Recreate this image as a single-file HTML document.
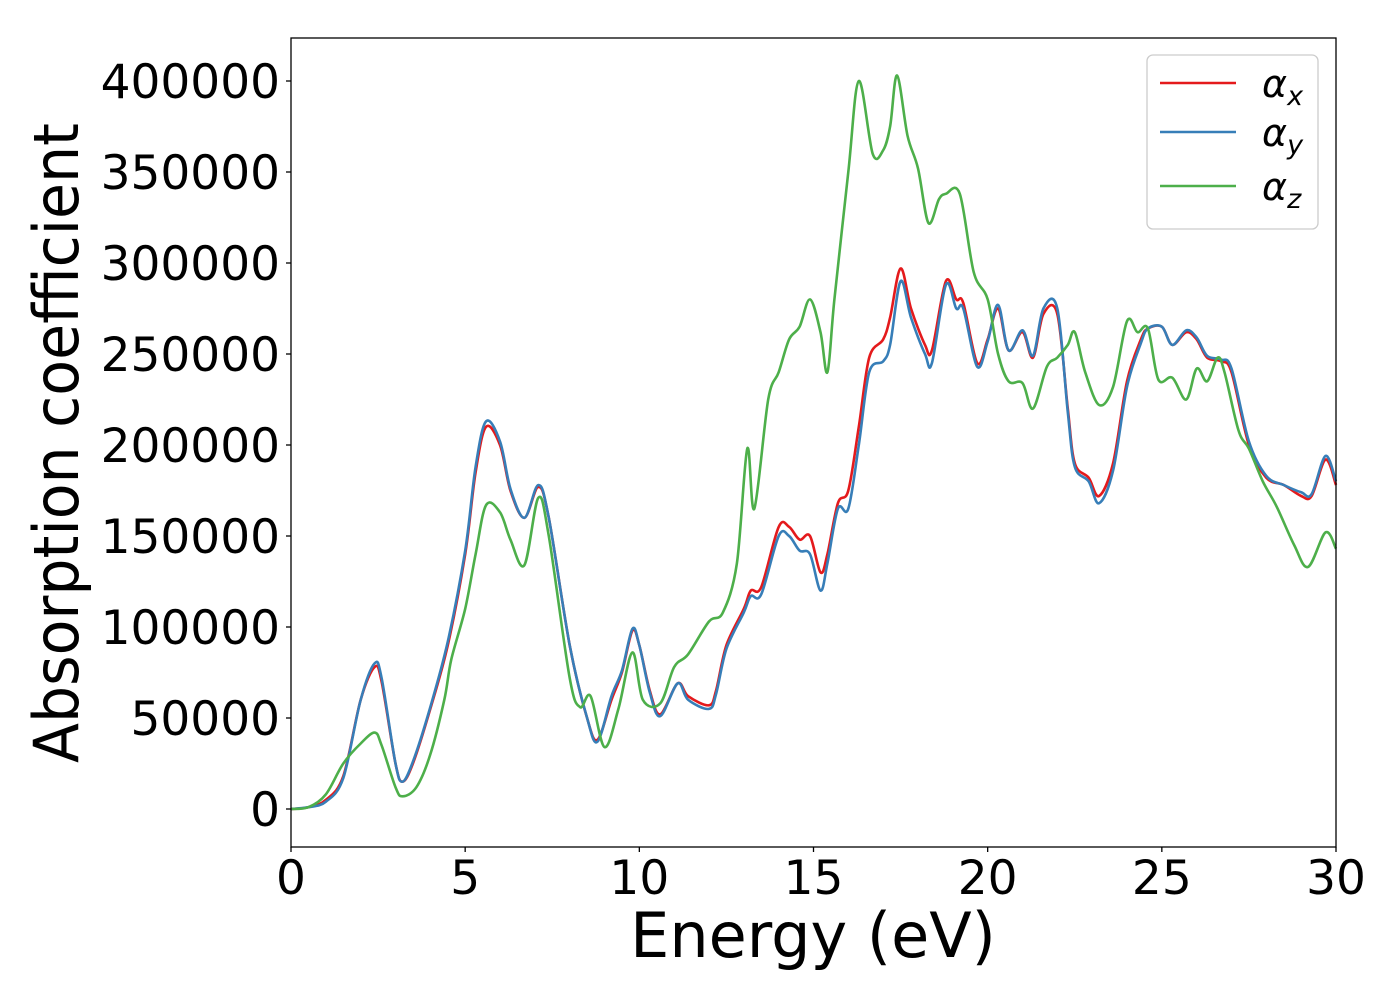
<!DOCTYPE html>
<html><head><meta charset="utf-8"><style>
html,body{margin:0;padding:0;background:#fff;}
svg{display:block;font-family:"DejaVu Sans","Liberation Sans",sans-serif;}
</style></head><body>
<svg id="chart" width="1400" height="1000" viewBox="0 0 1400 1000" xmlns="http://www.w3.org/2000/svg">
<rect x="0" y="0" width="1400" height="1000" fill="#fff"/>
<g id="ticks"></g>
<g id="lines"></g>
<rect x="291" y="38" width="1045" height="809" fill="none" stroke="#000" stroke-width="1.3"/>
<text x="813" y="957" font-size="62" text-anchor="middle">Energy (eV)</text>
<text transform="translate(78,443) rotate(-90)" font-size="62" text-anchor="middle" textLength="640" lengthAdjust="spacingAndGlyphs">Absorption coefficient</text>
<g>
<rect x="1147" y="55" width="171" height="174" rx="6" fill="#fff" fill-opacity="0.8" stroke="#ccc" stroke-width="1.3"/>
<line x1="1160" y1="83" x2="1236" y2="83" stroke="#e41a1c" stroke-width="2.5"/>
<text x="1262" y="97" font-size="38" font-style="italic">α<tspan font-size="27" dy="8">x</tspan></text>
<line x1="1160" y1="132" x2="1236" y2="132" stroke="#377eb8" stroke-width="2.5"/>
<text x="1262" y="146" font-size="38" font-style="italic">α<tspan font-size="27" dy="8">y</tspan></text>
<line x1="1160" y1="186" x2="1236" y2="186" stroke="#4daf4a" stroke-width="2.5"/>
<text x="1262" y="200" font-size="38" font-style="italic">α<tspan font-size="27" dy="8">z</tspan></text>
</g>
</svg>
<script>
const xTicks = [0, 5, 10, 15, 20, 25, 30];
const yTicks = [0, 50000, 100000, 150000, 200000, 250000, 300000, 350000, 400000];
const energyX = [0,0.5,1,1.5,2,2.4,2.6,3,3.2,3.5,4,4.5,5,5.3,5.6,6,6.3,6.7,7.1,7.4,8,8.5,8.8,9.2,9.5,9.8,10,10.3,10.6,11.1,11.4,12,12.2,12.5,13,13.2,13.5,14,14.3,14.6,14.9,15.2,15.4,15.7,16,16.3,16.6,17,17.2,17.5,17.8,18.2,18.4,18.8,19.1,19.3,19.7,20,20.3,20.6,21,21.3,21.6,22,22.3,22.5,22.9,23.2,23.6,24,24.4,24.6,25,25.3,25.7,26,26.3,26.7,27,27.5,28,28.5,29,29.3,29.7,30];
const alphaX = [0,1,5,18,60,78,70,25,15,25,55,90,140,185,210,200,175,160,177,160,90,50,38,60,75,98,90,65,52,69,62,57,65,90,110,120,122,155,155,148,150,130,140,168,175,210,248,258,270,297,275,255,252,290,280,278,245,258,275,252,262,248,272,272,220,190,182,172,190,235,258,264,265,255,262,258,248,246,240,200,182,178,172,172,192,178];
const alphaY = [0,1,4,17,60,80,72,25,15,26,56,92,142,188,213,202,176,160,178,160,90,50,37,62,76,99,90,64,51,69,60,55,63,88,108,117,118,150,150,142,140,120,135,165,165,200,240,246,255,290,270,250,245,288,275,275,243,257,277,252,263,249,275,275,218,188,180,168,186,232,256,264,265,255,263,259,249,247,242,202,183,178,174,173,194,180];
const energyZ = [0,0.5,1,1.5,2,2.4,2.6,3,3.2,3.6,4,4.4,4.6,5,5.3,5.6,6,6.3,6.7,7.1,7.4,8,8.3,8.6,9,9.4,9.8,10.1,10.6,11,11.4,12,12.4,12.8,13.1,13.3,13.7,14,14.3,14.6,14.9,15.2,15.4,15.6,16,16.3,16.7,17,17.2,17.4,17.7,18,18.3,18.6,18.8,19.2,19.6,20,20.3,20.6,21,21.3,21.7,22,22.3,22.5,22.8,23.2,23.6,24,24.3,24.6,24.9,25.3,25.7,26,26.3,26.6,26.8,27.2,27.5,27.9,28.3,28.8,29.2,29.7,30];
const alphaZ = [0,1,8,25,36,42,35,12,7,12,30,60,82,110,140,167,163,148,134,171,150,72,56,62,34,55,86,60,58,78,85,103,108,135,198,165,225,240,258,265,280,262,240,280,350,400,360,362,375,403,370,352,322,335,338,338,295,280,250,235,234,220,243,248,255,262,240,222,232,268,262,264,236,237,225,242,235,248,240,208,198,180,166,145,133,152,143];

const X0=291, X1=1336, Y0=809, YTOP=81;
function sx(e){ return X0 + (e/30)*(X1-X0); }
function sy(v){ return Y0 - (v/400000)*(Y0-YTOP); }
const NS="http://www.w3.org/2000/svg";
const tg=document.getElementById('ticks');
xTicks.forEach(t=>{
  const l=document.createElementNS(NS,'line');
  
  
  l.setAttribute('x1',sx(t));l.setAttribute('x2',sx(t));l.setAttribute('y1',847);l.setAttribute('y2',852);
  l.setAttribute('stroke','#000');l.setAttribute('stroke-width','1.3');tg.appendChild(l);
  const tx=document.createElementNS(NS,'text');
  
  
  tx.setAttribute('x',sx(t));tx.setAttribute('y',894);tx.setAttribute('font-size','47');tx.setAttribute('text-anchor','middle');
  tx.textContent=t;tg.appendChild(tx);
});
yTicks.forEach(t=>{
  const l=document.createElementNS(NS,'line');
  
  
  l.setAttribute('x1',286);l.setAttribute('x2',291);l.setAttribute('y1',sy(t));l.setAttribute('y2',sy(t));
  l.setAttribute('stroke','#000');l.setAttribute('stroke-width','1.3');tg.appendChild(l);
  const tx=document.createElementNS(NS,'text');
  
  
  tx.setAttribute('x',280);tx.setAttribute('y',sy(t)+17);tx.setAttribute('font-size','47');tx.setAttribute('text-anchor','end');
  tx.textContent=t;tg.appendChild(tx);
});
function pathFor(xs,ys){
  const p=xs.map((e,i)=>[sx(e),sy(ys[i]*1000)]);
  let d='M'+p[0][0].toFixed(1)+','+p[0][1].toFixed(1);
  for(let i=0;i<p.length-1;i++){
    const a=p[Math.max(0,i-1)],b=p[i],c=p[i+1],e=p[Math.min(p.length-1,i+2)];
    const c1=[b[0]+(c[0]-a[0])/6,b[1]+(c[1]-a[1])/6];
    const c2=[c[0]-(e[0]-b[0])/6,c[1]-(e[1]-b[1])/6];
    d+=' C'+c1[0].toFixed(1)+','+c1[1].toFixed(1)+' '+c2[0].toFixed(1)+','+c2[1].toFixed(1)+' '+c[0].toFixed(1)+','+c[1].toFixed(1);
  }
  return d;
}
const lg=document.getElementById('lines');
function addLine(xs,ys,color,name){
  const p=document.createElementNS(NS,'path');
  
  
  p.setAttribute('d',pathFor(xs,ys));p.setAttribute('fill','none');
  p.setAttribute('stroke',color);p.setAttribute('stroke-width','2.6');p.setAttribute('stroke-linejoin','round');
  lg.appendChild(p);
}
addLine(energyX,alphaX,'#e41a1c','alpha-x-line');
addLine(energyX,alphaY,'#377eb8','alpha-y-line');
addLine(energyZ,alphaZ,'#4daf4a','alpha-z-line');
</script>
</body></html>
